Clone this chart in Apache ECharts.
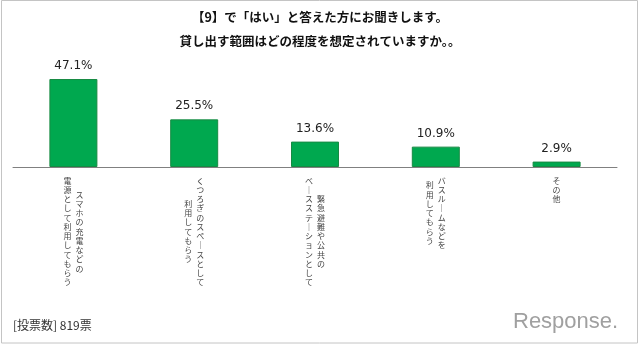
<!DOCTYPE html>
<html>
<head>
<meta charset="utf-8">
<script src="https://cdn.jsdelivr.net/npm/echarts@6/dist/echarts.min.js"></script>
<style>
html,body{margin:0;padding:0;background:#fff;}
#chart{width:640px;height:345px;}
</style>
</head>
<body>
<div id="chart"></div>
<script>
// Data (category text: "\n" separates the vertical columns, right column first)
const categories = [
  'スマホの充電などの\n電源として利用してもらう',
  'くつろぎのスペースとして\n利用してもらう',
  '緊急避難や公共の\nベースステーションとして',
  'バスルームなどを\n利用してもらう',
  'その他'
];
const values = [47.1, 25.5, 13.6, 10.9, 2.9];
const titleLines = ['【9】で「はい」と答えた方にお聞きします。', '貸し出す範囲はどの程度を想定されていますか。。'];
const footerText = '[投票数] 819票';
const logoText = 'Response.';

const ROW = 9.25;
const JP = '"Noto Sans CJK JP", sans-serif';
const LBL = {fontSize: 8, lineHeight: ROW, color: '#444', fontFamily: JP};
const rich = {
  c: Object.assign({}, LBL),
  r: Object.assign({}, LBL, {padding: [0, 0, 0, 12]}),
  l: Object.assign({}, LBL, {padding: [0, 12, 0, 0]})
};
for (let i = 1; i <= 14; i++) {
  rich['p' + i] = {fontSize: 1, lineHeight: i * ROW / 2};
}
const vertMap = {'ー': '｜'};

function makeFormatter(colIdx) {
  return function (value) {
    const cols = value.split('\n');
    const text = cols[colIdx];
    if (!text) return '';
    const maxLen = Math.max.apply(null, cols.map(c => c.length));
    const half = maxLen - text.length;
    const st = cols.length === 1 ? 'c' : (colIdx === 0 ? 'r' : 'l');
    const lines = [];
    if (half > 0) lines.push('{p' + half + '|\u3000}');
    for (const ch of text) lines.push('{' + st + '|' + (vertMap[ch] || ch) + '}');
    return lines.join('\n');
  };
}

const chart = echarts.init(document.getElementById('chart'));
chart.setOption({
  animation: false,
  backgroundColor: '#fff',
  title: [{
    text: footerText,
    left: 13,
    top: 319,
    padding: 0,
    textStyle: {fontFamily: JP, fontSize: 12, fontWeight: 'normal', color: '#333'}
  }],
  graphic: [{
    type: 'rect',
    shape: {x: 1.5, y: 0.5, width: 636, height: 342.5},
    style: {fill: 'none', stroke: '#c4c4c4', lineWidth: 1},
    silent: true
  }, {
    type: 'text',
    x: 320,
    y: 5,
    style: {
      text: titleLines.join('\n'),
      align: 'center',
      verticalAlign: 'top',
      fontFamily: JP, fontSize: 12.5, fontWeight: 'bold', fill: '#111', lineHeight: 24
    },
    silent: true
  }, {
    type: 'text',
    x: 513,
    y: 311,
    style: {text: logoText, fontFamily: '"Liberation Sans", sans-serif', fontSize: 22, fill: '#a0a0a0'},
    silent: true
  }],
  grid: {left: 13, right: 23, top: 73.6, bottom: 178, containLabel: false},
  xAxis: [{
    type: 'category',
    position: 'bottom',
    data: categories,
    axisLine: {show: true, lineStyle: {color: '#808080', width: 1}},
    axisTick: {show: false},
    axisLabel: {interval: 0, margin: 9, formatter: makeFormatter(0), rich: rich, lineHeight: ROW}
  }, {
    type: 'category',
    position: 'bottom',
    offset: 0,
    data: categories,
    axisLine: {show: false},
    axisTick: {show: false},
    axisLabel: {interval: 0, margin: 9, formatter: makeFormatter(1), rich: rich, lineHeight: ROW}
  }],
  yAxis: {type: 'value', min: 0, max: 50, show: false, splitLine: {show: false}},
  series: [{
    type: 'bar',
    xAxisIndex: 0,
    data: values,
    barWidth: 48,
    itemStyle: {color: '#00A84F', borderColor: '#178a43', borderWidth: 1},
    label: {
      show: true,
      position: 'top',
      distance: 7,
      formatter: '{c}%',
      fontFamily: '"DejaVu Sans", sans-serif',
      fontSize: 12,
      color: '#222'
    }
  }]
});
</script>
</body>
</html>
